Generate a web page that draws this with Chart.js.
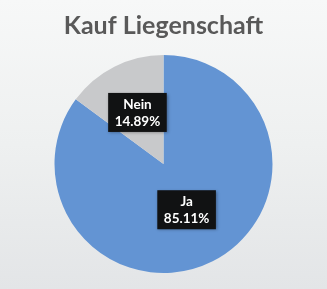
<!DOCTYPE html>
<html>
<head>
<meta charset="utf-8">
<script src="https://cdn.jsdelivr.net/npm/chart.js@4"></script>
<style>
  html, body { margin: 0; padding: 0; }
  body {
    width: 327px; height: 289px; overflow: hidden;
    background: linear-gradient(to bottom, #f7f8f8 0%, #eef0f0 50%, #e3e5e7 100%);
  }
  #wrap { width: 327px; height: 289px; }
</style>
</head>
<body>
<div id="wrap"><canvas id="myChart"></canvas></div>
<script>
// Chart data
const labels = ['Ja', 'Nein'];
const values = [85.11, 14.89];
const colors = ['#6394d3', '#c8c9cb'];

// Draws the black label boxes on the slices
const boxLabels = {
    id: 'boxLabels',
    afterDatasetsDraw(chart, args, opts) {
        const ctx = chart.ctx;
        const meta = chart.getDatasetMeta(0);
        meta.data.forEach(function (arc, i) {
            const mid = (arc.startAngle + arc.endAngle) / 2;
            const r = arc.outerRadius * opts.fractions[i];
            const x = arc.x + Math.cos(mid) * r;
            const y = arc.y + Math.sin(mid) * r;
            const line1 = labels[i];
            const line2 = values[i].toFixed(2) + '%';
            ctx.save();
            ctx.font = 'bold 13.5px Lato';
            const w = Math.max(ctx.measureText(line1).width, ctx.measureText(line2).width) + 13;
            const h = 39;
            ctx.shadowColor = 'rgba(0,0,0,0.35)';
            ctx.shadowBlur = 3;
            ctx.shadowOffsetX = 1;
            ctx.shadowOffsetY = 1;
            ctx.fillStyle = '#111213';
            ctx.fillRect(x - w / 2, y - h / 2, w, h);
            ctx.shadowColor = 'transparent';
            ctx.fillStyle = '#ffffff';
            ctx.textAlign = 'center';
            ctx.textBaseline = 'middle';
            ctx.fillText(line1, x, y - 8);
            ctx.fillText(line2, x, y + 9);
            ctx.restore();
        });
    }
};

var ctx = document.getElementById('myChart').getContext('2d');

var myChart = new Chart(ctx, {
    type: 'pie',
    data: {
        labels: labels,
        datasets: [{
            data: values,
            backgroundColor: colors,
            borderWidth: 0
        }]
    },
    options: {
        responsive: true,
        maintainAspectRatio: false,
        animation: false,
        layout: {
            padding: { top: 0, bottom: 16, left: 0, right: 0 }
        },
        plugins: {
            title: {
                display: true,
                text: 'Kauf Liegenschaft',
                color: '#595959',
                font: { family: 'Lato', size: 25, weight: 'bold' },
                padding: { top: 11, bottom: 14 }
            },
            legend: { display: false },
            tooltip: { enabled: false },
            boxLabels: { fractions: [0.47, 0.53] }
        }
    },
    plugins: [boxLabels]
});
</script>
</body>
</html>
